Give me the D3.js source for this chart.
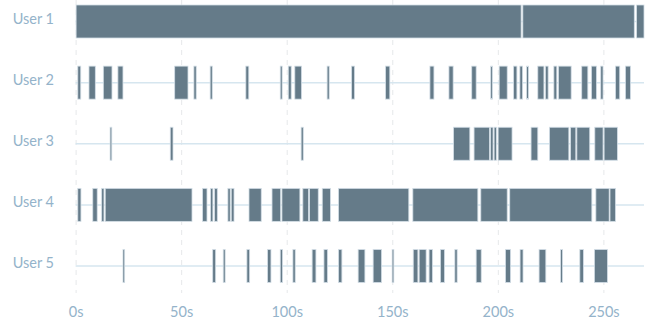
<!DOCTYPE html>
<html>
<head>
<meta charset="utf-8">
<script src="https://cdn.jsdelivr.net/npm/d3@7"></script>
<style>
  html, body { margin: 0; padding: 0; background: #fff; }
  svg { display: block; }
  text { font-family: Lato, "Open Sans", sans-serif; font-weight: 400; }
</style>
</head>
<body>
<svg id="chart" width="651" height="326"></svg>
<script>
// Activity sessions per user, as [start, end] in seconds
const users = ["User 1", "User 2", "User 3", "User 4", "User 5"];

const user1Sessions = [[0, 210.8], [211.6, 264.4], [265.5, 269]];

const user2Sessions = [
  [0.8, 2.2], [6.1, 9.1], [12.9, 17], [19.8, 22.2], [46.7, 53], [55.8, 56.9],
  [63.5, 64.5], [80.4, 81.8], [96.7, 97.6], [100.5, 101.9], [103.6, 106.8],
  [118.9, 119.9], [130.5, 131.9], [146.6, 148.6], [167.6, 169.5], [176.6, 178.6],
  [187.4, 189.5], [196.4, 197.2], [200.4, 204.2], [207.2, 208.8], [210.2, 211.5],
  [213.4, 214.3], [218.7, 221.6], [222.3, 223.6], [226.3, 227.7], [228.5, 234.5],
  [239.5, 242.4], [244.1, 246.5], [248.5, 249.6], [255.5, 257.5], [260.2, 262.6]
];

const user3Sessions = [
  [16.1, 16.9], [44.6, 45.9], [106.6, 107.6], [178.8, 186.5], [188.5, 195.8],
  [196.3, 197.5], [198, 199.1], [199.9, 206.5], [215.5, 218.7], [224.2, 233.4],
  [234.2, 236.7], [237.2, 243.3], [245.7, 249.6], [250.1, 256.4]
];

const user4Sessions = [
  [0.8, 2.3], [7.9, 10], [12.1, 13.2], [13.8, 54.9], [59.9, 62], [63.7, 64.8],
  [65.6, 66.9], [71.9, 73], [73.5, 74.8], [81.9, 87.7], [92.8, 96.9], [97.5, 106],
  [107.4, 110.1], [110.6, 114.7], [116.6, 120.5], [124.3, 157.6], [159.5, 190.3],
  [191.7, 204.2], [205.4, 244.3], [246.2, 252.5], [252.9, 255.5]
];

const user5Sessions = [
  [22.2, 23], [64.7, 66.1], [69.7, 70.6], [80.9, 82.2], [90.7, 92.3], [96.7, 97.8],
  [102.7, 103.8], [111.8, 113.6], [117.4, 119.1], [124.3, 125.9], [133.6, 136.8],
  [140.7, 144.7], [149.7, 150.5], [159.7, 161.9], [162.5, 165.8], [167.2, 168.8],
  [172.6, 174.5], [179.4, 180.5], [189.5, 191.9], [203.4, 205.8], [210.3, 211.7],
  [219.3, 222.5], [229.5, 230.4], [238.6, 240.3], [245.5, 251.7]
];

const timeTicks = [0, 50, 100, 150, 200, 250];
const timeMax = 269;

const sessionsByUser = [user1Sessions, user2Sessions, user3Sessions, user4Sessions, user5Sessions];
const rows = users.map((u, i) => ({ user: u, sessions: sessionsByUser[i] }));

const svg = d3.select("#chart");

const x = d3.scaleLinear().domain([0, timeMax]).range([76.1, 644]);
const y = d3.scalePoint().domain(users).range([21.5, 266]);
const barH = 33;

// Dashed vertical grid at each time tick
svg.append("g")
  .selectAll("line")
  .data(timeTicks)
  .join("line")
  .attr("x1", d => x(d)).attr("x2", d => x(d))
  .attr("y1", 0).attr("y2", 293)
  .attr("stroke", "#e6e8ea")
  .attr("stroke-width", 1)
  .attr("stroke-dasharray", "5,5");

// Baseline for each user row
svg.append("g")
  .selectAll("line")
  .data(users)
  .join("line")
  .attr("x1", x(0) - 0.5).attr("x2", x(timeMax))
  .attr("y1", d => y(d)).attr("y2", d => y(d))
  .attr("stroke", "#d6e6ef")
  .attr("stroke-width", 1.5);

// Session bars
const rowG = svg.append("g")
  .selectAll("g")
  .data(rows)
  .join("g");

rowG.selectAll("rect")
  .data(d => d.sessions.map(s => ({ user: d.user, start: s[0], end: s[1] })))
  .join("rect")
  .attr("x", d => x(d.start))
  .attr("width", d => Math.max(1, x(d.end) - x(d.start)))
  .attr("y", d => y(d.user) - barH / 2)
  .attr("height", barH)
  .attr("fill", "#657b89")
  .attr("stroke", "#d3dee6")
  .attr("stroke-width", 0.8);

// User labels
svg.append("g")
  .selectAll("text")
  .data(users)
  .join("text")
  .attr("x", 54)
  .attr("y", d => y(d))
  .attr("dy", "0.16em")
  .attr("text-anchor", "end")
  .attr("font-size", 14.5)
  .attr("fill", "#94b3ca")
  .text(d => d);

// Time axis labels
svg.append("g")
  .selectAll("text")
  .data(timeTicks)
  .join("text")
  .attr("x", d => x(d))
  .attr("y", 317)
  .attr("text-anchor", "middle")
  .attr("font-size", 14.5)
  .attr("fill", "#94b3ca")
  .text(d => d + "s");
</script>
</body>
</html>
